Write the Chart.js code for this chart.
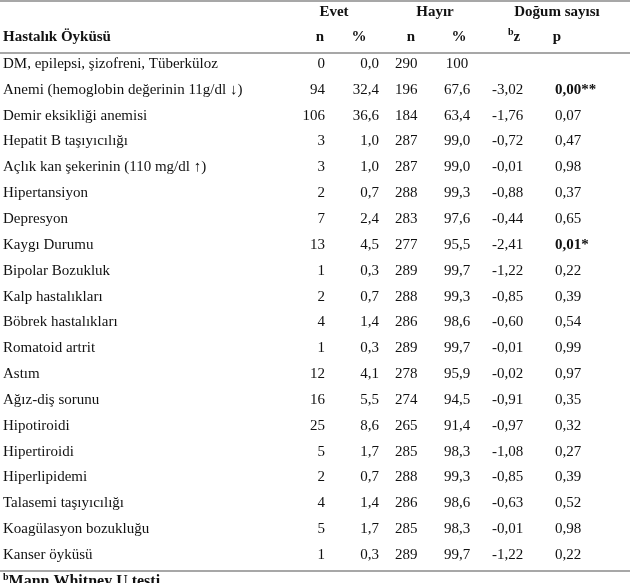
<!DOCTYPE html>
<html lang="tr">
<head>
<meta charset="utf-8">
<script src="https://cdn.jsdelivr.net/npm/chart.js@4.4.1/dist/chart.umd.min.js"></script>
<style>
  html, body { margin: 0; padding: 0; background: #fff; }
  #wrap { width: 638px; height: 583px; position: relative; }
</style>
</head>
<body>
<div id="wrap"><canvas id="myChart"></canvas></div>
<script>
const hastaliklar = [
  "DM, epilepsi, şizofreni, Tüberküloz",
  "Anemi (hemoglobin değerinin 11g/dl ↓)",
  "Demir eksikliği anemisi",
  "Hepatit B taşıyıcılığı",
  "Açlık kan şekerinin (110 mg/dl ↑)",
  "Hipertansiyon",
  "Depresyon",
  "Kaygı Durumu",
  "Bipolar Bozukluk",
  "Kalp hastalıkları",
  "Böbrek hastalıkları",
  "Romatoid artrit",
  "Astım",
  "Ağız-diş sorunu",
  "Hipotiroidi",
  "Hipertiroidi",
  "Hiperlipidemi",
  "Talasemi taşıyıcılığı",
  "Koagülasyon bozukluğu",
  "Kanser öyküsü",
];
const evetN = [0, 94, 106, 3, 3, 2, 7, 13, 1, 2, 4, 1, 12, 16, 25, 5, 2, 4, 5, 1];
const evetYuzde = [0.0, 32.4, 36.6, 1.0, 1.0, 0.7, 2.4, 4.5, 0.3, 0.7, 1.4, 0.3, 4.1, 5.5, 8.6, 1.7, 0.7, 1.4, 1.7, 0.3];
const hayirN = [290, 196, 184, 287, 287, 288, 283, 277, 289, 288, 286, 289, 278, 274, 265, 285, 288, 286, 285, 289];
const hayirYuzde = [100, 67.6, 63.4, 99.0, 99.0, 99.3, 97.6, 95.5, 99.7, 99.3, 98.6, 99.7, 95.9, 94.5, 91.4, 98.3, 99.3, 98.6, 98.3, 99.7];
const zDegeri = [null, -3.02, -1.76, -0.72, -0.01, -0.88, -0.44, -2.41, -1.22, -0.85, -0.60, -0.01, -0.02, -0.91, -0.97, -1.08, -0.85, -0.63, -0.01, -1.22];
const pDegeri = [null, 0.00, 0.07, 0.47, 0.98, 0.37, 0.65, 0.01, 0.22, 0.39, 0.54, 0.99, 0.97, 0.35, 0.32, 0.27, 0.39, 0.52, 0.98, 0.22];

const gruplar = ["Evet", "Hayır", "Doğum sayısı"];
const altBasliklar = ["n", "%", "n", "%", "z", "p"];
const ilkBaslik = "Hastalık Öyküsü";
const dipnot = "Mann Whitney U testi";

const SERIF = '"Liberation Serif", "Times New Roman", serif';
const virgul = (v, d) => v.toFixed(d).replace(".", ",");
const yuzdeYaz = (v) => (v === 100 ? "100" : virgul(v, 1));
const yildiz = (p) => (p < 0.01 ? "**" : p < 0.05 ? "*" : "");

// x scale in pixels, y scale in row units (row 0 = first disease)
const tablePlugin = {
  id: "tablePlugin",
  afterDraw(chart) {
    const { ctx } = chart;
    const x = chart.scales.x;
    const y = chart.scales.y;
    const px = (v) => x.getPixelForValue(v);
    const py = (v) => y.getPixelForValue(v);

    const text = (s, xv, yv, align, bold, size) => {
      ctx.font = `${bold ? "bold " : ""}${size || 15}px ${SERIF}`;
      ctx.textAlign = align;
      ctx.textBaseline = "middle";
      ctx.fillStyle = "#111";
      ctx.fillText(s, px(xv), py(yv));
    };
    const supText = (sup, s, xv, yv, bold, size) => {
      ctx.font = `${bold ? "bold " : ""}${size || 15}px ${SERIF}`;
      const w1 = ctx.measureText(s).width;
      ctx.font = `${bold ? "bold " : ""}10px ${SERIF}`;
      const w0 = ctx.measureText(sup).width;
      ctx.textAlign = "left";
      ctx.textBaseline = "middle";
      ctx.fillStyle = "#111";
      ctx.fillText(sup, px(xv), py(yv) - 5);
      ctx.font = `${bold ? "bold " : ""}${size || 15}px ${SERIF}`;
      ctx.fillText(s, px(xv) + w0, py(yv));
      return w0 + w1;
    };
    const line = (yv) => {
      ctx.save();
      ctx.strokeStyle = "#8a8a8a";
      ctx.lineWidth = 1.5;
      ctx.beginPath();
      ctx.moveTo(px(0), py(yv));
      ctx.lineTo(px(630), py(yv));
      ctx.stroke();
      ctx.restore();
    };

    line(-2.44);
    line(-0.43);
    line(19.62);

    // group headers
    text(gruplar[0], 334, -2.0, "center", true);
    text(gruplar[1], 435, -2.0, "center", true);
    text(gruplar[2], 557, -2.0, "center", true);

    // sub headers
    const hy = -1.04;
    text(ilkBaslik, 3, hy, "left", true);
    text(altBasliklar[0], 320, hy, "center", true);
    text(altBasliklar[1], 359, hy, "center", true);
    text(altBasliklar[2], 411, hy, "center", true);
    text(altBasliklar[3], 459, hy, "center", true);
    supText("b", altBasliklar[4], 508, hy, true);
    text(altBasliklar[5], 557, hy, "center", true);

    hastaliklar.forEach((ad, i) => {
      text(ad, 3, i, "left", false);
      text(String(evetN[i]), 325, i, "right", false);
      text(virgul(evetYuzde[i], 1), 379, i, "right", false);
      text(String(hayirN[i]), 395, i, "left", false);
      text(yuzdeYaz(hayirYuzde[i]), 457, i, "center", false);
      if (zDegeri[i] !== null) text(virgul(zDegeri[i], 2), 492, i, "left", false);
      if (pDegeri[i] !== null) {
        const s = yildiz(pDegeri[i]);
        text(virgul(pDegeri[i], 2) + s, 555, i, "left", s !== "");
      }
    });

    supText("b", dipnot, 3, 20.05, true, 16);
  },
};

new Chart(document.getElementById("myChart"), {
  type: "scatter",
  data: { datasets: [{ data: [], pointRadius: 0 }] },
  options: {
    responsive: true,
    maintainAspectRatio: false,
    animation: false,
    layout: { padding: 0 },
    plugins: { legend: { display: false }, tooltip: { enabled: false } },
    scales: {
      x: { type: "linear", min: 0, max: 638, display: false },
      y: { type: "linear", min: -2.477, max: 20.085, reverse: true, display: false },
    },
  },
  plugins: [tablePlugin],
});
</script>
</body>
</html>
